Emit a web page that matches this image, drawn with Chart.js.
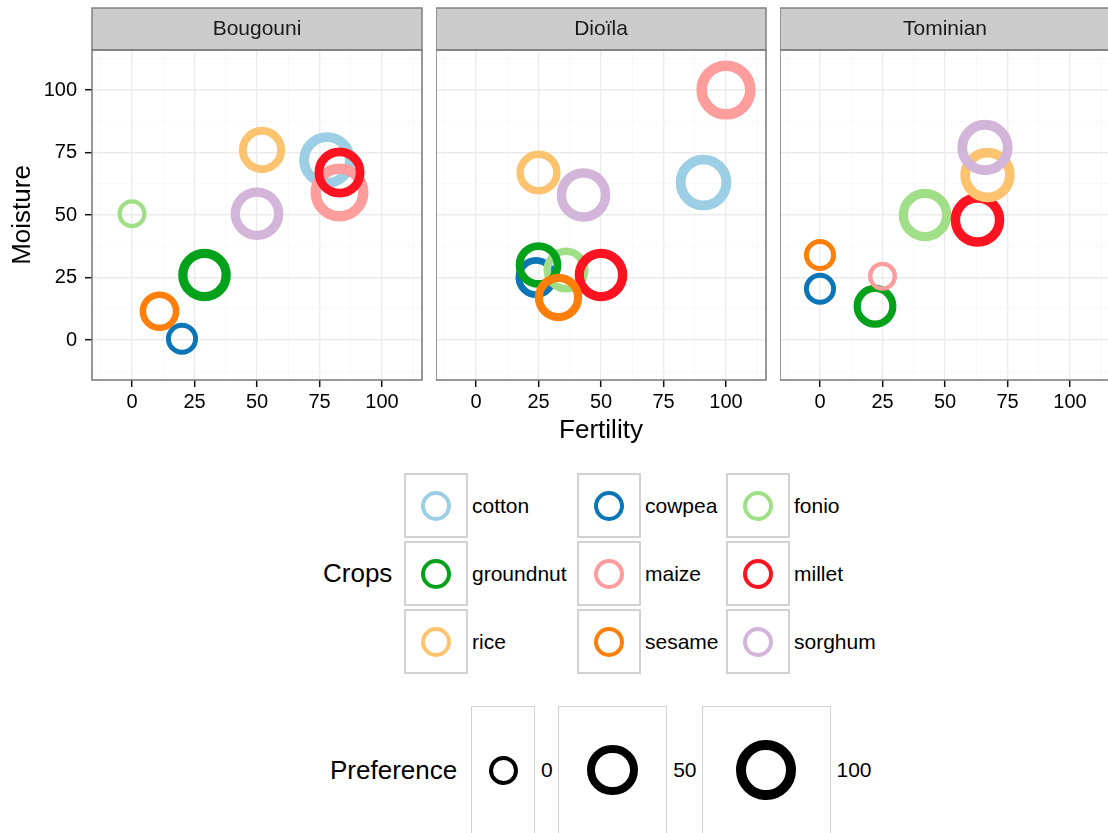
<!DOCTYPE html>
<html>
<head>
<meta charset="utf-8">
<title>Crop preference by fertility and moisture</title>
<script src="https://cdn.jsdelivr.net/npm/chart.js@4.4.1/dist/chart.umd.min.js"></script>
<style>
  html, body { margin: 0; padding: 0; background: #fff; }
  body {
    width: 1108px; height: 833px; overflow: hidden; position: relative;
    font-family: "Liberation Sans", Arial, Helvetica, sans-serif; color: #000;
  }
  canvas.panel { position: absolute; top: 0; }
  .legend { position: absolute; display: flex; align-items: center; }
  .legend-title { font-size: 26px; white-space: nowrap; }
  #cropLegend { left: 323px; top: 473px; }
  #cropLegend .legend-title { width: 81px; }
  #cropGrid { display: grid; grid-template-columns: 173px 149px auto; row-gap: 3px; }
  .key { display: flex; align-items: center; }
  .keybox {
    box-sizing: border-box; border: 2px solid #d2d2d2;
    display: flex; align-items: center; justify-content: center;
  }
  .ring { box-sizing: border-box; border-radius: 50%; border-style: solid; }
  .keylabel { font-size: 21px; white-space: nowrap; }
  #cropGrid .keylabel { margin-left: 4px; }
  #prefLegend { left: 330px; top: 706px; height: 128px; }
  #prefLegend .legend-title { width: 141px; }
  #prefLegend .keybox { border-width: 1.5px; height: 128px; }
  #prefLegend .keylabel { margin: 0 5px 0 6px; }
</style>
</head>
<body>
<canvas id="panel0" class="panel"></canvas>
<canvas id="panel1" class="panel"></canvas>
<canvas id="panel2" class="panel"></canvas>
<div id="cropLegend" class="legend"><div class="legend-title">Crops</div><div id="cropGrid"></div></div>
<div id="prefLegend" class="legend"><div class="legend-title">Preference</div></div>

<script>
// ---- data -------------------------------------------------------------
const regions = ['Bougouni', 'Dioïla', 'Tominian'];
const crops = ['cotton', 'cowpea', 'fonio', 'groundnut', 'maize', 'millet', 'rice', 'sesame', 'sorghum'];
const cropColors = ['#9ccfe5', '#0b75b5', '#a0df88', '#00a11b', '#fe9d9c', '#fe1420', '#fec36f', '#ff7f0a', '#d3b5da'];

// values per crop, in the order of `crops` (null = crop not grown there)
const bougouniFertility  = [78, 20, 0, 29, 83, 83, 52, 11, 50];
const bougouniMoisture   = [72, 0.5, 50.5, 26, 59, 67, 76, 11.5, 50.5];
const bougouniPreference = [74, 1, 0, 58, 87, 46, 31, 12, 58];

const dioilaFertility    = [91, 24, 36, 25, 100, 50, 25, 33, 43];
const dioilaMoisture     = [63, 25, 28, 30, 100, 26, 67, 17, 58];
const dioilaPreference   = [74, 15, 27, 29, 95, 58, 24, 35, 63];

const tominianFertility  = [null, 0, 42, 22, 25, 63, 67, 0, 66];
const tominianMoisture   = [null, 20.5, 50, 13.5, 25.5, 48, 66, 34, 77];
const tominianPreference = [null, 1, 58, 20, 0, 63, 67, 1, 72];

const axisTicks = [0, 25, 50, 75, 100];
const preferenceBreaks = [0, 50, 100];

// ---- helpers ----------------------------------------------------------
const FONT = '"Liberation Sans", Arial, Helvetica, sans-serif';
Chart.defaults.font.family = FONT;
Chart.defaults.color = '#000';

const AXIS_MIN = -16, AXIS_MAX = 116;
const step = axisTicks[1] - axisTicks[0];
const gridValues = [];
axisTicks.forEach(v => { gridValues.push(v - step / 2); gridValues.push(v); });
gridValues.push(axisTicks[axisTicks.length - 1] + step / 2);
const isMajor = v => axisTicks.some(t => Math.abs(t - v) < 1e-9);

// area-style size scale: preference -> ring outer diameter and stroke
function ringSize(pref) {
  const s = 1 + 5 * Math.sqrt(Math.max(pref, 0) / 100);
  return { outer: 22.8 + 6.2 * s, stroke: 3 + 1.3 * s };
}

const panelData = [
  { fert: bougouniFertility, moist: bougouniMoisture, pref: bougouniPreference },
  { fert: dioilaFertility,   moist: dioilaMoisture,   pref: dioilaPreference },
  { fert: tominianFertility, moist: tominianMoisture, pref: tominianPreference }
];

const PANEL_SIZE = 330, PANEL_TOP = 50, STRIP_TOP = 8, X_AXIS_H = 70, RIGHT_PAD = 10;
const panelLefts = [92, 436, 780];

const stripAndBorder = {
  id: 'stripAndBorder',
  afterDraw(chart, args, opts) {
    const { ctx, chartArea: a } = chart;
    ctx.save();
    // facet strip
    ctx.fillStyle = '#cccccc';
    ctx.fillRect(a.left, STRIP_TOP, a.right - a.left, a.top - STRIP_TOP);
    ctx.strokeStyle = '#808080';
    ctx.lineWidth = 1.5;
    ctx.strokeRect(a.left, STRIP_TOP, a.right - a.left, a.top - STRIP_TOP);
    ctx.fillStyle = '#1a1a1a';
    ctx.font = '21px ' + FONT;
    ctx.textAlign = 'center';
    ctx.textBaseline = 'middle';
    ctx.fillText(opts.label, (a.left + a.right) / 2, (STRIP_TOP + a.top) / 2);
    // panel border
    ctx.strokeStyle = '#7f7f7f';
    ctx.lineWidth = 1.6;
    ctx.strokeRect(a.left, a.top, a.right - a.left, a.bottom - a.top);
    ctx.restore();
  }
};

function gridOpts(withTicks) {
  return {
    color: c => isMajor(c.tick.value) ? '#ebebeb' : '#f6f6f6',
    lineWidth: c => isMajor(c.tick.value) ? 1.4 : 0.8,
    drawTicks: withTicks,
    tickLength: 7,
    tickWidth: 1.5,
    tickColor: c => isMajor(c.tick.value) ? '#111' : 'rgba(0,0,0,0)'
  };
}

function buildPanel(i) {
  const d = panelData[i];
  const axisW = i === 0 ? 92 : 0;
  const canvas = document.getElementById('panel' + i);
  canvas.width = axisW + PANEL_SIZE + RIGHT_PAD;
  canvas.height = PANEL_TOP + PANEL_SIZE + X_AXIS_H;
  canvas.style.left = (panelLefts[i] - axisW) + 'px';

  const points = [];
  crops.forEach((crop, k) => {
    if (d.fert[k] === null) return;
    points.push({ x: d.fert[k], y: d.moist[k], pref: d.pref[k], crop: k });
  });

  return new Chart(canvas, {
    type: 'bubble',
    data: {
      datasets: [{
        label: regions[i],
        data: points,
        backgroundColor: 'rgba(0,0,0,0)',
        borderColor: c => c.raw ? cropColors[c.raw.crop] : '#000',
        borderWidth: c => c.raw ? ringSize(c.raw.pref).stroke : 1,
        radius: c => {
          if (!c.raw) return 3;
          const r = ringSize(c.raw.pref);
          return (r.outer - r.stroke) / 2;
        },
        hoverRadius: 0
      }]
    },
    options: {
      responsive: false,
      animation: false,
      events: [],
      layout: { autoPadding: false, padding: { top: PANEL_TOP, right: RIGHT_PAD, bottom: 0, left: 0 } },
      plugins: {
        legend: { display: false },
        tooltip: { enabled: false },
        stripAndBorder: { label: regions[i] }
      },
      scales: {
        x: {
          type: 'linear', min: AXIS_MIN, max: AXIS_MAX,
          afterBuildTicks: s => { s.ticks = gridValues.map(v => ({ value: v })); },
          afterFit: s => { s.height = X_AXIS_H; s.paddingLeft = 0; s.paddingRight = 0; },
          grid: gridOpts(true),
          border: { display: false },
          ticks: {
            autoSkip: false, maxRotation: 0, padding: 3, color: '#000',
            font: { size: 20 },
            callback: v => isMajor(v) ? String(v) : ''
          },
          title: {
            display: i === 1, text: 'Fertility', color: '#000',
            font: { size: 26 }, padding: { top: 0, bottom: 4 }
          }
        },
        y: {
          type: 'linear', min: AXIS_MIN, max: AXIS_MAX,
          afterBuildTicks: s => { s.ticks = gridValues.map(v => ({ value: v })); },
          afterFit: s => { s.width = axisW; s.paddingTop = 0; s.paddingBottom = 0; },
          grid: gridOpts(i === 0),
          border: { display: false },
          ticks: {
            display: i === 0, autoSkip: false, padding: 8, color: '#000',
            font: { size: 20 },
            callback: v => isMajor(v) ? String(v) : ''
          },
          title: {
            display: i === 0, text: 'Moisture', color: '#000',
            font: { size: 26 }, padding: { top: 7, bottom: 0 }
          }
        }
      }
    },
    plugins: [stripAndBorder]
  });
}

regions.forEach((r, i) => buildPanel(i));

// ---- legends ----------------------------------------------------------
function ringEl(color, size) {
  const el = document.createElement('div');
  el.className = 'ring';
  el.style.width = size.outer + 'px';
  el.style.height = size.outer + 'px';
  el.style.borderWidth = size.stroke + 'px';
  el.style.borderColor = color;
  return el;
}

const cropGrid = document.getElementById('cropGrid');
const keyRing = { outer: 30, stroke: 4.5 };
crops.forEach((crop, k) => {
  const key = document.createElement('div');
  key.className = 'key';
  const box = document.createElement('div');
  box.className = 'keybox';
  box.style.width = '64px';
  box.style.height = '65px';
  box.appendChild(ringEl(cropColors[k], keyRing));
  const lab = document.createElement('div');
  lab.className = 'keylabel';
  lab.textContent = crop;
  key.appendChild(box);
  key.appendChild(lab);
  cropGrid.appendChild(key);
});

const prefLegend = document.getElementById('prefLegend');
preferenceBreaks.forEach(p => {
  const size = ringSize(p);
  const box = document.createElement('div');
  box.className = 'keybox';
  box.style.width = Math.max(64, 2.15 * size.outer) + 'px';
  box.appendChild(ringEl('#000', size));
  const lab = document.createElement('div');
  lab.className = 'keylabel';
  lab.textContent = String(p);
  prefLegend.appendChild(box);
  prefLegend.appendChild(lab);
});
</script>
</body>
</html>
